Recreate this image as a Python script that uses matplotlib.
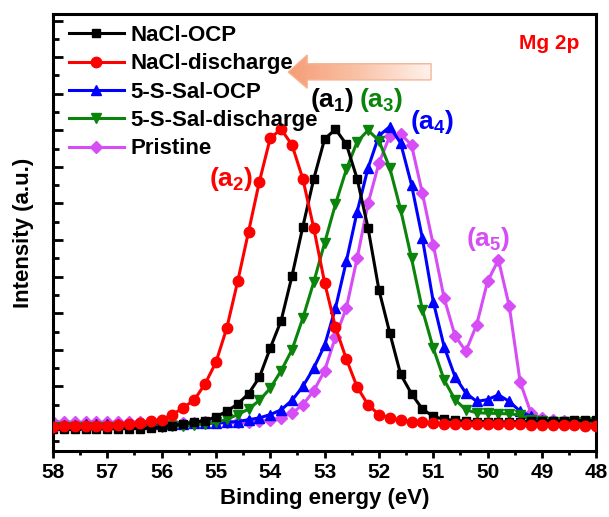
import numpy as np
import matplotlib
matplotlib.use('Agg')
import matplotlib.pyplot as plt
from matplotlib.patches import Polygon
from matplotlib.colors import LinearSegmentedColormap

plt.rcParams['font.family'] = 'Liberation Sans'
plt.rcParams['font.weight'] = 'bold'
plt.rcParams['mathtext.fontset'] = 'custom'
plt.rcParams['mathtext.rm'] = 'Liberation Sans:bold'
plt.rcParams['mathtext.it'] = 'Liberation Sans:bold'
plt.rcParams['mathtext.bf'] = 'Liberation Sans:bold'
plt.rcParams['mathtext.default'] = 'rm'

# binding energy grid, 58.0 -> 48.0 eV in 0.2 eV steps
energy = np.round(np.arange(58.0, 47.9, -0.2), 1)

nacl_ocp = [-0.17, -0.17, -0.17, -0.16, -0.16, -0.16, -0.15, -0.15, -0.15, -0.14,
            -0.11, -0.07, -0.03, 0.02, 0.06, 0.17, 0.32, 0.52, 0.80, 1.25,
            2.05, 2.80, 4.02, 5.37, 6.67, 7.76, 8.03, 7.62, 6.67, 5.33,
            3.64, 2.46, 1.33, 0.80, 0.38, 0.18, 0.10, 0.07, 0.05, 0.04,
            0.04, 0.03, 0.03, 0.04, 0.05, 0.05, 0.06, 0.06, 0.07, 0.08, 0.08]
nacl_dis = [-0.10, -0.09, -0.09, -0.09, -0.08, -0.07, -0.05, -0.03, 0.00, 0.05,
            0.09, 0.23, 0.42, 0.63, 1.07, 1.66, 2.60, 3.87, 5.23, 6.60,
            7.79, 8.03, 7.60, 6.67, 5.33, 3.84, 2.62, 1.75, 0.98, 0.50,
            0.23, 0.14, 0.07, 0.04, 0.02, 0.00, -0.02, -0.03, -0.03, -0.03,
            -0.03, -0.02, -0.04, -0.04, -0.05, -0.05, -0.05, -0.05, -0.06, -0.07, -0.07]
sal_ocp = [-0.05, -0.05, -0.05, -0.04, -0.04, -0.04, -0.04, -0.03, -0.03, -0.03,
           -0.03, -0.02, -0.02, -0.01, -0.01, 0.00, 0.02, 0.04, 0.09, 0.14,
           0.23, 0.36, 0.62, 1.00, 1.50, 2.12, 3.14, 4.42, 5.78, 6.97,
           7.85, 8.10, 7.65, 6.51, 5.05, 3.32, 2.09, 1.27, 0.82, 0.59,
           0.64, 0.77, 0.59, 0.32, 0.18, 0.08, 0.05, 0.04, 0.04, 0.04, 0.04]
sal_dis = [-0.12, -0.12, -0.12, -0.11, -0.11, -0.11, -0.11, -0.10, -0.10, -0.10,
           -0.10, -0.09, -0.08, -0.06, -0.03, 0.02, 0.10, 0.23, 0.38, 0.62,
           0.95, 1.43, 2.00, 2.87, 3.85, 4.92, 5.98, 6.93, 7.69, 8.00,
           7.72, 6.97, 5.83, 4.50, 3.10, 2.05, 1.18, 0.64, 0.36, 0.28,
           0.27, 0.26, 0.25, 0.22, 0.08, 0.05, 0.04, 0.04, 0.04, 0.04, 0.04]
pristine = [0.03, 0.03, 0.02, 0.02, 0.03, 0.02, 0.02, 0.02, 0.03, 0.02,
            0.02, 0.02, 0.01, 0.01, 0.02, 0.02, 0.02, 0.02, 0.03, 0.05,
            0.08, 0.15, 0.27, 0.50, 0.88, 1.43, 2.35, 3.14, 4.51, 6.00,
            7.10, 7.85, 7.90, 7.60, 6.28, 4.87, 3.42, 2.39, 1.96, 2.69,
            3.87, 4.46, 3.19, 1.12, 0.27, 0.14, 0.08, 0.05, 0.04, 0.03, 0.03]

labels = ['NaCl-OCP', 'NaCl-discharge', '5-S-Sal-OCP', '5-S-Sal-discharge', 'Pristine']
colors = ['black', '#FF0000', '#0000FF', '#0A840A', '#D64DF5']
markers = ['s', 'o', '^', 'v', 'D']
msizes = [6, 7.5, 7, 7, 6]
zorders = [4, 5, 2, 3, 1]

fig = plt.figure(figsize=(6.09, 5.17), dpi=100)
ax = fig.add_axes([0.087, 0.128, 0.892, 0.845])

for y, lab, c, m, ms, z in zip([nacl_ocp, nacl_dis, sal_ocp, sal_dis, pristine],
                               labels, colors, markers, msizes, zorders):
    ax.plot(energy, y, color=c, marker=m, markersize=ms, lw=2.2, label=lab, zorder=z)

# gradient arrow (shift of the peak)
grad = np.linspace(0, 1, 256).reshape(1, -1)
cmap = LinearSegmentedColormap.from_list('arr', ['#F59C74', '#F9C3A8', '#FEF2EC'])
im = ax.imshow(grad, extent=[0.431, 0.696, 0.83, 0.906], transform=ax.transAxes,
               cmap=cmap, aspect='auto', zorder=6)
arrow = Polygon([[0.433, 0.867], [0.468, 0.906], [0.468, 0.886], [0.696, 0.886],
                 [0.696, 0.849], [0.468, 0.849], [0.468, 0.830]], closed=True,
                transform=ax.transAxes, fc='none', ec='#F4B596', lw=1, zorder=7)
ax.add_patch(arrow)
im.set_clip_path(arrow)

ax.set_xlim(58, 48)
ax.set_ylim(-0.76, 11.18)
ax.set_xticks(np.arange(48, 59))
ax.set_xticks(np.arange(48, 58.1, 0.5), minor=True)
ax.set_yticks(np.arange(0, 12))
ax.set_yticks(np.arange(-0.5, 11.1, 0.5), minor=True)
ax.tick_params(axis='x', which='major', direction='out', length=5, width=2, labelsize=15, pad=4)
ax.tick_params(axis='x', which='minor', direction='out', length=3, width=2)
ax.tick_params(axis='y', which='major', direction='in', length=7, width=2, labelleft=False)
ax.tick_params(axis='y', which='minor', direction='in', length=4, width=2)
for sp in ax.spines.values():
    sp.set_linewidth(2.2)

ax.set_xlabel('Binding energy (eV)', fontsize=16, fontweight='bold', labelpad=4)
ax.set_ylabel('Intensity (a.u.)', fontsize=16, fontweight='bold', labelpad=10)

ax.text(52.86, 8.83, r'(a$_1$)', color='black', fontsize=19, ha='center', va='center', zorder=8)
ax.text(54.72, 6.67, r'(a$_2$)', color='#FF0000', fontsize=19, ha='center', va='center', zorder=8)
ax.text(51.96, 8.83, r'(a$_3$)', color='#0A840A', fontsize=19, ha='center', va='center', zorder=8)
ax.text(51.02, 8.23, r'(a$_4$)', color='#0000FF', fontsize=19, ha='center', va='center', zorder=8)
ax.text(49.99, 5.04, r'(a$_5$)', color='#D64DF5', fontsize=19, ha='center', va='center', zorder=8)
ax.text(0.913, 0.933, 'Mg 2p', color='#FF0000', fontsize=15, ha='center', va='center',
        transform=ax.transAxes)

ax.legend(loc='upper left', bbox_to_anchor=(0.0, 1.01), frameon=False, fontsize=16,
          handlelength=2.5, handletextpad=0.3, labelspacing=0.33, borderaxespad=0.3)

fig.savefig('out.png', dpi=100)
